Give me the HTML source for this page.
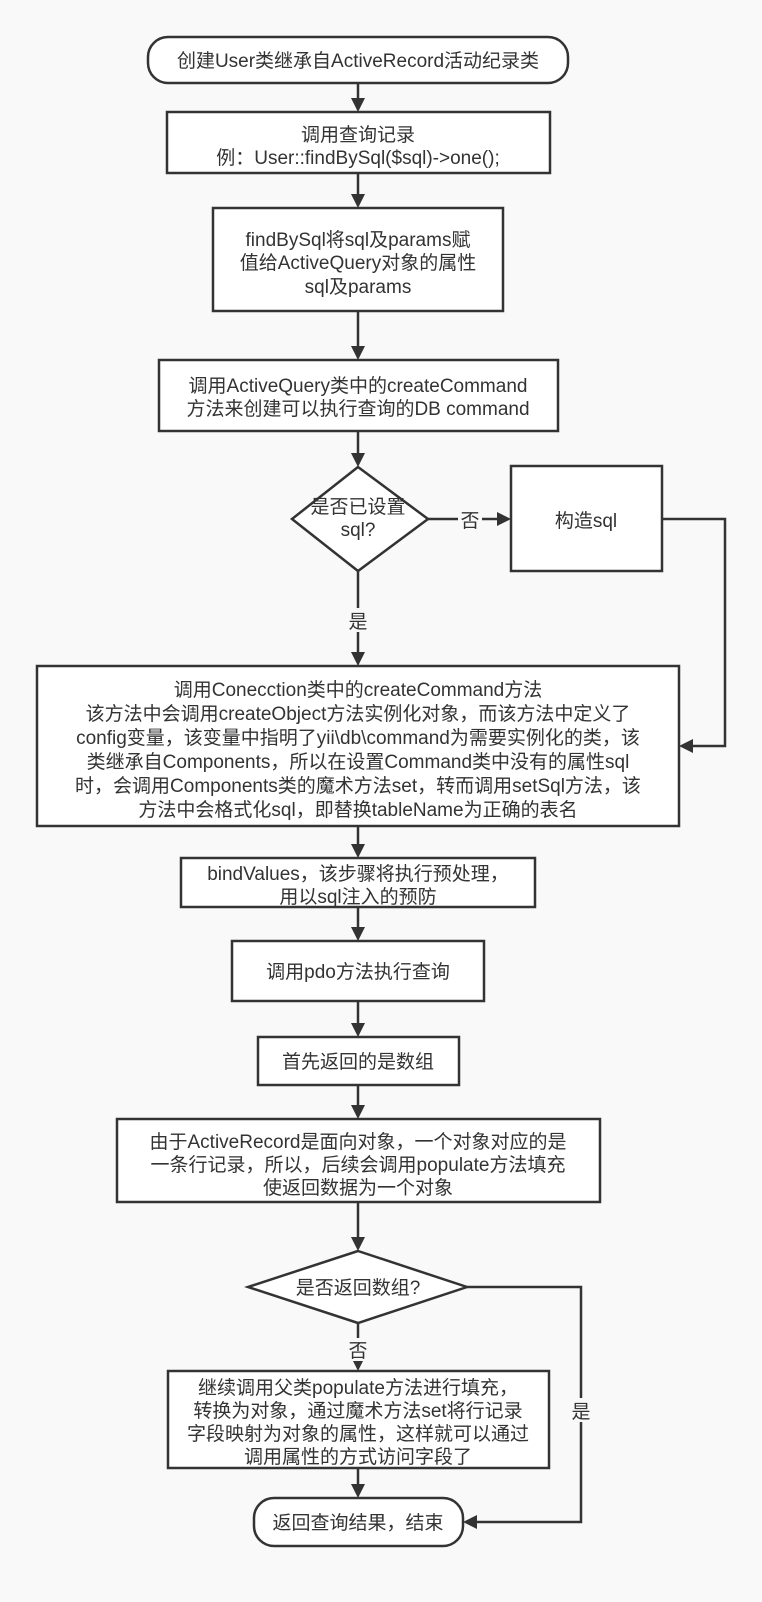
<!DOCTYPE html>
<html><head><meta charset="utf-8"><style>
html,body{margin:0;padding:0;background:#f9f9f9;}
svg{display:block;}
text{font-family:"Liberation Sans","Noto Sans CJK SC",sans-serif;font-size:19px;fill:#333;text-anchor:middle;}
</style></head><body>
<svg width="762" height="1602" viewBox="0 0 762 1602" xmlns="http://www.w3.org/2000/svg">
<rect width="762" height="1602" fill="#f9f9f9"/>
<g fill="#fff" stroke="#333" stroke-width="2.5">
<rect x="148" y="37" width="420" height="46" rx="20"/>
<rect x="167" y="112" width="383" height="61"/>
<rect x="213" y="208" width="290" height="103"/>
<rect x="159" y="360" width="399" height="71"/>
<polygon points="358,467 428,519 358,571 292,519"/>
<rect x="511" y="466" width="151" height="105"/>
<rect x="37" y="666" width="642" height="160"/>
<rect x="181" y="858" width="354" height="49"/>
<rect x="232" y="941" width="252" height="60"/>
<rect x="258" y="1037" width="201" height="48"/>
<rect x="117" y="1119" width="483" height="83"/>
<polygon points="358,1251 467,1287 358,1323 248,1287"/>
<rect x="168" y="1371" width="381" height="97"/>
<rect x="254" y="1498" width="209" height="48" rx="20"/>
</g>
<g stroke="#333" stroke-width="2.5" fill="none">
<line x1="358" y1="83" x2="358" y2="100"/>
<line x1="358" y1="173" x2="358" y2="196"/>
<line x1="358" y1="311" x2="358" y2="348"/>
<line x1="358" y1="431" x2="358" y2="455"/>
<line x1="358" y1="571" x2="358" y2="654"/>
<line x1="428" y1="519" x2="499" y2="519"/>
<polyline points="662,519 725,519 725,746 692,746"/>
<line x1="358" y1="826" x2="358" y2="846"/>
<line x1="358" y1="907" x2="358" y2="929"/>
<line x1="358" y1="1001" x2="358" y2="1025"/>
<line x1="358" y1="1085" x2="358" y2="1107"/>
<line x1="358" y1="1202" x2="358" y2="1239"/>
<line x1="358" y1="1323" x2="358" y2="1359"/>
<polyline points="467,1287 581,1287 581,1522 475,1522"/>
<line x1="358" y1="1468" x2="358" y2="1486"/>
</g>
<g fill="#333">
<polygon points="351,98 365,98 358,112"/>
<polygon points="351,194 365,194 358,208"/>
<polygon points="351,346 365,346 358,360"/>
<polygon points="351,453 365,453 358,467"/>
<polygon points="351,652 365,652 358,666"/>
<polygon points="497,512 497,526 511,519"/>
<polygon points="693,739 693,753 679,746"/>
<polygon points="351,844 365,844 358,858"/>
<polygon points="351,927 365,927 358,941"/>
<polygon points="351,1023 365,1023 358,1037"/>
<polygon points="351,1105 365,1105 358,1119"/>
<polygon points="351,1237 365,1237 358,1251"/>
<polygon points="353,1361 363,1361 358,1371"/>
<polygon points="477,1515 477,1529 463,1522"/>
<polygon points="351,1484 365,1484 358,1498"/>
</g>
<g fill="#f9f9f9">
<rect x="346" y="608" width="24" height="24"/>
<rect x="458" y="508" width="24" height="22"/>
<rect x="346" y="1338" width="24" height="22"/>
<rect x="569" y="1398" width="24" height="24"/>
</g>
<text x="358" y="67">创建User类继承自ActiveRecord活动纪录类</text>
<text x="358" y="141">调用查询记录</text>
<text x="358" y="164">例：User::findBySql($sql)-&gt;one();</text>
<text x="358" y="246">findBySql将sql及params赋</text>
<text x="358" y="269">值给ActiveQuery对象的属性</text>
<text x="358" y="293">sql及params</text>
<text x="358" y="392">调用ActiveQuery类中的createCommand</text>
<text x="358" y="415">方法来创建可以执行查询的DB command</text>
<text x="358" y="513">是否已设置</text>
<text x="358" y="536">sql?</text>
<text x="586" y="527">构造sql</text>
<text x="470" y="527">否</text>
<text x="358" y="628">是</text>
<text x="358" y="696">调用Conecction类中的createCommand方法</text>
<text x="358" y="720">该方法中会调用createObject方法实例化对象，而该方法中定义了</text>
<text x="358" y="744">config变量，该变量中指明了yii\db\command为需要实例化的类，该</text>
<text x="358" y="768">类继承自Components，所以在设置Command类中没有的属性sql</text>
<text x="358" y="792">时，会调用Components类的魔术方法set，转而调用setSql方法，该</text>
<text x="358" y="816">方法中会格式化sql，即替换tableName为正确的表名</text>
<text x="358" y="880">bindValues，该步骤将执行预处理，</text>
<text x="358" y="903">用以sql注入的预防</text>
<text x="358" y="978">调用pdo方法执行查询</text>
<text x="358" y="1068">首先返回的是数组</text>
<text x="358" y="1148">由于ActiveRecord是面向对象，一个对象对应的是</text>
<text x="358" y="1171">一条行记录，所以，后续会调用populate方法填充</text>
<text x="358" y="1194">使返回数据为一个对象</text>
<text x="358" y="1294">是否返回数组?</text>
<text x="358" y="1357">否</text>
<text x="358" y="1394">继续调用父类populate方法进行填充，</text>
<text x="358" y="1417">转换为对象，通过魔术方法set将行记录</text>
<text x="358" y="1440">字段映射为对象的属性，这样就可以通过</text>
<text x="358" y="1463">调用属性的方式访问字段了</text>
<text x="581" y="1418">是</text>
<text x="358" y="1529">返回查询结果，结束</text>
</svg>
</body></html>
